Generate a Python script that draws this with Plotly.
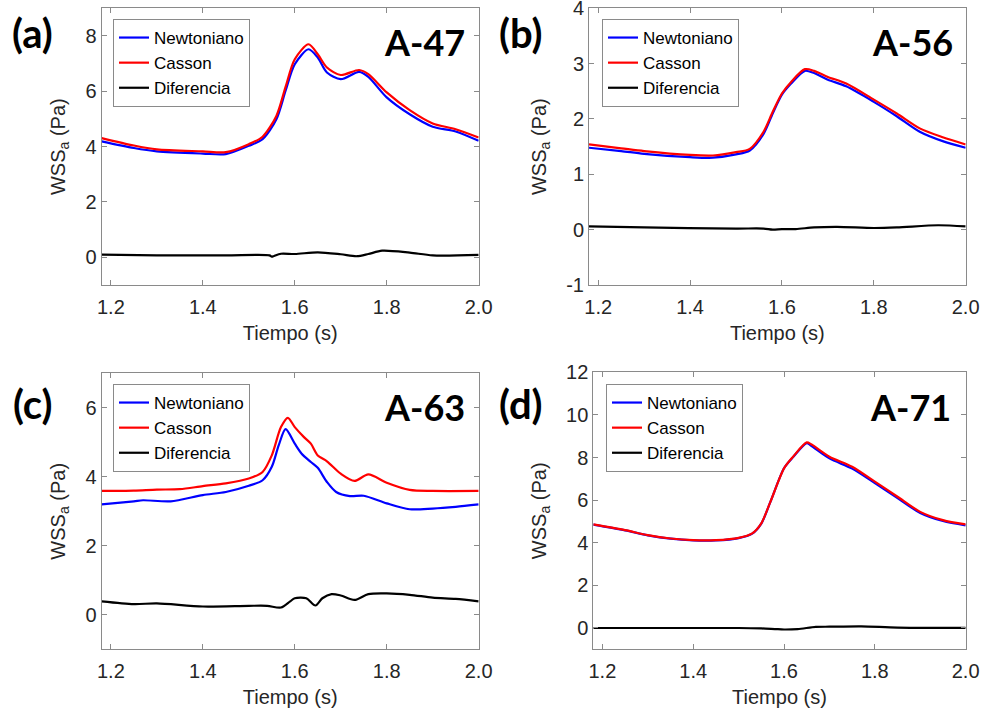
import plotly.graph_objects as go

# ---- Panel (a) A-47 ----
t_a = [1.18, 1.25, 1.30, 1.40, 1.45, 1.50, 1.53, 1.56, 1.58, 1.60, 1.63, 1.65, 1.67, 1.70,
       1.74, 1.76, 1.80, 1.85, 1.90, 1.95, 2.00]
newt_a = [4.19, 3.95, 3.83, 3.75, 3.73, 4.03, 4.27, 4.99, 6.02, 6.98, 7.52, 7.22, 6.68, 6.44,
          6.70, 6.52, 5.78, 5.17, 4.72, 4.55, 4.21]
cass_a = [4.31, 4.04, 3.90, 3.83, 3.80, 4.09, 4.36, 5.11, 6.16, 7.16, 7.70, 7.34, 6.86, 6.59,
          6.77, 6.62, 5.96, 5.32, 4.84, 4.63, 4.33]
t_da = [1.18, 1.30, 1.45, 1.545, 1.55, 1.555, 1.57, 1.60, 1.65, 1.70, 1.735, 1.76, 1.79, 1.85, 1.90, 2.00]
diff_a = [0.10, 0.07, 0.07, 0.07, 0.02, 0.05, 0.13, 0.12, 0.18, 0.11, 0.04, 0.12, 0.24, 0.17, 0.07, 0.09]

# ---- Panel (b) A-56 ----
t_b = [1.18, 1.25, 1.30, 1.40, 1.45, 1.50, 1.53, 1.56, 1.58, 1.60, 1.62, 1.65, 1.67, 1.70,
       1.74, 1.80, 1.85, 1.90, 1.95, 2.00]
newt_b = [1.48, 1.42, 1.37, 1.31, 1.30, 1.36, 1.43, 1.73, 2.10, 2.44, 2.64, 2.87, 2.83, 2.71,
          2.59, 2.31, 2.05, 1.77, 1.60, 1.48]
cass_b = [1.54, 1.47, 1.42, 1.35, 1.34, 1.40, 1.46, 1.77, 2.13, 2.46, 2.67, 2.90, 2.87, 2.76,
          2.64, 2.35, 2.10, 1.83, 1.67, 1.54]
t_db = [1.18, 1.30, 1.50, 1.56, 1.58, 1.60, 1.63, 1.67, 1.72, 1.80, 1.85, 1.94, 2.00]
diff_b = [0.06, 0.04, 0.02, 0.02, 0.00, 0.01, 0.01, 0.04, 0.05, 0.03, 0.04, 0.08, 0.06]

# ---- Panel (c) A-63 ----
t_cn = [1.18, 1.25, 1.27, 1.33, 1.40, 1.45, 1.50, 1.53, 1.55, 1.565, 1.58, 1.60, 1.615, 1.635,
        1.65, 1.67, 1.69, 1.72, 1.75, 1.80, 1.85, 1.90, 1.95, 2.00]
newt_c = [3.20, 3.29, 3.32, 3.29, 3.47, 3.56, 3.74, 3.90, 4.29, 4.91, 5.38, 4.96, 4.67, 4.43,
          4.26, 3.85, 3.56, 3.44, 3.45, 3.23, 3.06, 3.08, 3.13, 3.20]
t_cc = [1.18, 1.25, 1.30, 1.35, 1.40, 1.45, 1.50, 1.53, 1.55, 1.57, 1.585, 1.60, 1.62, 1.635,
        1.65, 1.67, 1.70, 1.73, 1.76, 1.80, 1.85, 1.90, 2.00]
cass_c = [3.59, 3.60, 3.63, 3.64, 3.73, 3.81, 3.95, 4.14, 4.62, 5.44, 5.71, 5.44, 5.15, 4.96,
          4.62, 4.45, 4.09, 3.88, 4.07, 3.83, 3.62, 3.59, 3.59]
t_dc = [1.18, 1.25, 1.30, 1.40, 1.50, 1.54, 1.57, 1.59, 1.60, 1.625, 1.645, 1.66, 1.68, 1.70,
        1.73, 1.76, 1.80, 1.85, 1.90, 1.95, 2.00]
diff_c = [0.39, 0.31, 0.33, 0.24, 0.26, 0.26, 0.21, 0.39, 0.48, 0.48, 0.27, 0.48, 0.60, 0.56,
          0.43, 0.60, 0.62, 0.58, 0.50, 0.46, 0.39]

# ---- Panel (d) A-71 ----
t_d = [1.18, 1.25, 1.30, 1.35, 1.40, 1.45, 1.50, 1.53, 1.55, 1.57, 1.60, 1.62, 1.65, 1.66,
       1.70, 1.75, 1.80, 1.85, 1.90, 1.95, 2.00]
newt_d = [4.85, 4.58, 4.35, 4.19, 4.11, 4.11, 4.22, 4.43, 4.90, 5.92, 7.50, 8.02, 8.68, 8.55,
          7.96, 7.48, 6.80, 6.10, 5.40, 5.02, 4.82]
cass_d = [4.86, 4.59, 4.36, 4.20, 4.12, 4.12, 4.23, 4.44, 4.91, 5.92, 7.49, 8.04, 8.71, 8.62,
          8.04, 7.57, 6.87, 6.16, 5.45, 5.06, 4.86]
t_dd = [1.18, 1.50, 1.55, 1.58, 1.60, 1.63, 1.67, 1.70, 1.77, 1.85, 2.00]
diff_d = [0.00, 0.00, -0.02, -0.05, -0.07, -0.05, 0.05, 0.06, 0.08, 0.02, 0.01]

series_names = ["Newtoniano", "Casson", "Diferencia"]
series_colors = ["#0000ff", "#ff0000", "#000000"]
panel_letters = ["(a)", "(b)", "(c)", "(d)"]
panel_cases = ["A-47", "A-56", "A-63", "A-71"]
x_ticks = [1.2, 1.4, 1.6, 1.8, 2.0]
y_ranges = [[-1, 9], [-1, 4], [-1, 7], [-1, 12]]
y_ticks = [[0, 2, 4, 6, 8], [-1, 0, 1, 2, 3, 4], [0, 2, 4, 6], [0, 2, 4, 6, 8, 10, 12]]

panels = [
    ((t_a, newt_a), (t_a, cass_a), (t_da, diff_a)),
    ((t_b, newt_b), (t_b, cass_b), (t_db, diff_b)),
    ((t_cn, newt_c), (t_cc, cass_c), (t_dc, diff_c)),
    ((t_d, newt_d), (t_d, cass_d), (t_dd, diff_d)),
]

W, H = 983, 715
# plot-area boxes in pixels: left, right, top, bottom
boxes = [(101.7, 478.7, 8.3, 285.0), (589.0, 965.7, 8.3, 285.0),
         (101.7, 478.7, 373.3, 649.3), (593.3, 965.7, 372.3, 649.3)]
legend_pos = [(113, 19), (602, 19), (113, 384), (606, 384)]
letter_pos = [(32, 33), (521, 33), (32, 404), (521, 404)]
case_pos = [(467, 42), (955, 42), (467, 407), (953, 407)]

AXIS_GRAY = "#8a8a8a"
TEXT_GRAY = "#262626"
TICK_FONT = dict(family="Liberation Sans, Arial, sans-serif", size=20, color=TEXT_GRAY)
PAD = 1e-4  # keeps the end ticks inside the axis range

fig = go.Figure()
layout = dict(width=W, height=H, margin=dict(l=0, r=0, t=0, b=0, autoexpand=False),
              template="none", paper_bgcolor="white", plot_bgcolor="white", annotations=[])

for i, series in enumerate(panels):
    n = i + 1
    xa = "x" if n == 1 else f"x{n}"
    ya = "y" if n == 1 else f"y{n}"
    lg = "legend" if n == 1 else f"legend{n}"
    for (tt, vv), name, col in zip(series, series_names, series_colors):
        fig.add_trace(go.Scatter(x=tt, y=vv, mode="lines", name=name, xaxis=xa, yaxis=ya,
                                 legend=lg, line=dict(color=col, width=2.2, shape="spline",
                                                      smoothing=0.8)))
    l, r, t, b = boxes[i]
    axis_common = dict(showline=True, linecolor=AXIS_GRAY, linewidth=1, mirror="ticks",
                       ticks="inside", ticklen=5, tickcolor=AXIS_GRAY, showgrid=False,
                       zeroline=False, tickfont=TICK_FONT, automargin=False,
                       ticklabeloverflow="allow")
    layout["xaxis" if n == 1 else f"xaxis{n}"] = dict(
        axis_common, domain=[l / W, r / W], range=[1.18, 2.0 + PAD], tickvals=x_ticks,
        ticktext=[f"{v:.1f}" for v in x_ticks], anchor=ya, ticklabelstandoff=4,
        title=dict(text="Tiempo (s)", font=dict(TICK_FONT), standoff=8))
    y0, y1 = y_ranges[i]
    layout["yaxis" if n == 1 else f"yaxis{n}"] = dict(
        axis_common, domain=[1 - b / H, 1 - t / H], range=[y0 - PAD, y1 + PAD],
        tickvals=y_ticks[i], ticktext=[str(v) for v in y_ticks[i]], anchor=xa,
        title=dict(text="WSS<sub>a</sub> (Pa)", font=dict(TICK_FONT), standoff=14))
    lx, ly = legend_pos[i]
    layout[lg] = dict(x=lx / W, y=1 - ly / H, xanchor="left", yanchor="top",
                      bgcolor="white", bordercolor=AXIS_GRAY, borderwidth=1,
                      font=dict(family="Liberation Sans, Arial, sans-serif", size=17, color="black"),
                      tracegroupgap=0, itemwidth=30)
    px, py = letter_pos[i]
    layout["annotations"].append(dict(text="<b>%s</b>" % panel_letters[i], x=px / W, y=1 - py / H,
                                      xref="paper", yref="paper", showarrow=False,
                                      xanchor="center", yanchor="middle",
                                      font=dict(family="Lato, sans-serif", size=40, color="black")))
    cx, cy = case_pos[i]
    layout["annotations"].append(dict(text="<b>%s</b>" % panel_cases[i], x=cx / W, y=1 - cy / H,
                                      xref="paper", yref="paper", showarrow=False,
                                      xanchor="right", yanchor="middle",
                                      font=dict(family="Lato, sans-serif", size=36, color="black")))

fig.update_layout(**layout)
fig.write_html("out.html")
